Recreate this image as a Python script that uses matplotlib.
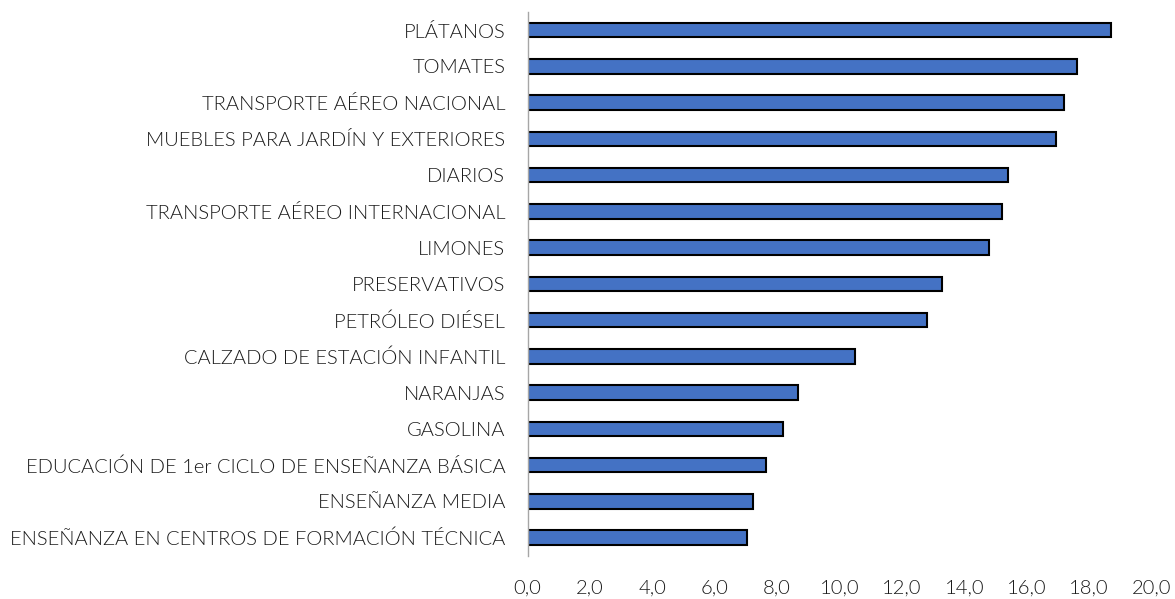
import matplotlib
matplotlib.use("Agg")
import matplotlib.pyplot as plt
from matplotlib.ticker import FuncFormatter

categories = [
    "PLÁTANOS",
    "TOMATES",
    "TRANSPORTE AÉREO NACIONAL",
    "MUEBLES PARA JARDÍN Y EXTERIORES",
    "DIARIOS",
    "TRANSPORTE AÉREO INTERNACIONAL",
    "LIMONES",
    "PRESERVATIVOS",
    "PETRÓLEO DIÉSEL",
    "CALZADO DE ESTACIÓN INFANTIL",
    "NARANJAS",
    "GASOLINA",
    "EDUCACIÓN DE 1er CICLO DE ENSEÑANZA BÁSICA",
    "ENSEÑANZA MEDIA",
    "ENSEÑANZA EN CENTROS DE FORMACIÓN TÉCNICA",
]
values = [18.7, 17.6, 17.2, 16.95, 15.4, 15.2, 14.8, 13.3, 12.8, 10.5, 8.67, 8.2, 7.64, 7.22, 7.02]
xticks = [0, 2, 4, 6, 8, 10, 12, 14, 16, 18, 20]

plt.rcParams['font.family'] = ['Lato', 'DejaVu Sans']
plt.rcParams['font.weight'] = 300

fig = plt.figure(figsize=(11.75, 5.99), dpi=100)
ax = fig.add_axes([0.449, 0.072, 0.531, 0.908])

ypos = list(range(len(categories)))[::-1]
ax.barh(ypos, values, height=0.4, color="#4472C4", edgecolor="black", linewidth=1.5)

ax.set_yticks(ypos)
ax.set_yticklabels(categories, fontsize=14.5, color="#1a1a1a", fontweight=300)
ax.set_ylim(-0.5, len(categories) - 0.5)
ax.set_xlim(0, 20)
ax.set_xticks(xticks)
ax.xaxis.set_major_formatter(FuncFormatter(lambda v, p: f"{v:.1f}".replace(".", ",")))
ax.tick_params(axis="x", labelsize=14.5, length=0, pad=17, colors="#1a1a1a")
for lbl in ax.get_xticklabels():
    lbl.set_fontweight(300)
ax.tick_params(axis="y", length=0, pad=16)

for s in ["top", "right", "bottom"]:
    ax.spines[s].set_visible(False)
ax.spines["left"].set_color("#A6A6A6")
ax.spines["left"].set_linewidth(1)

fig.savefig("out.png", dpi=100)
